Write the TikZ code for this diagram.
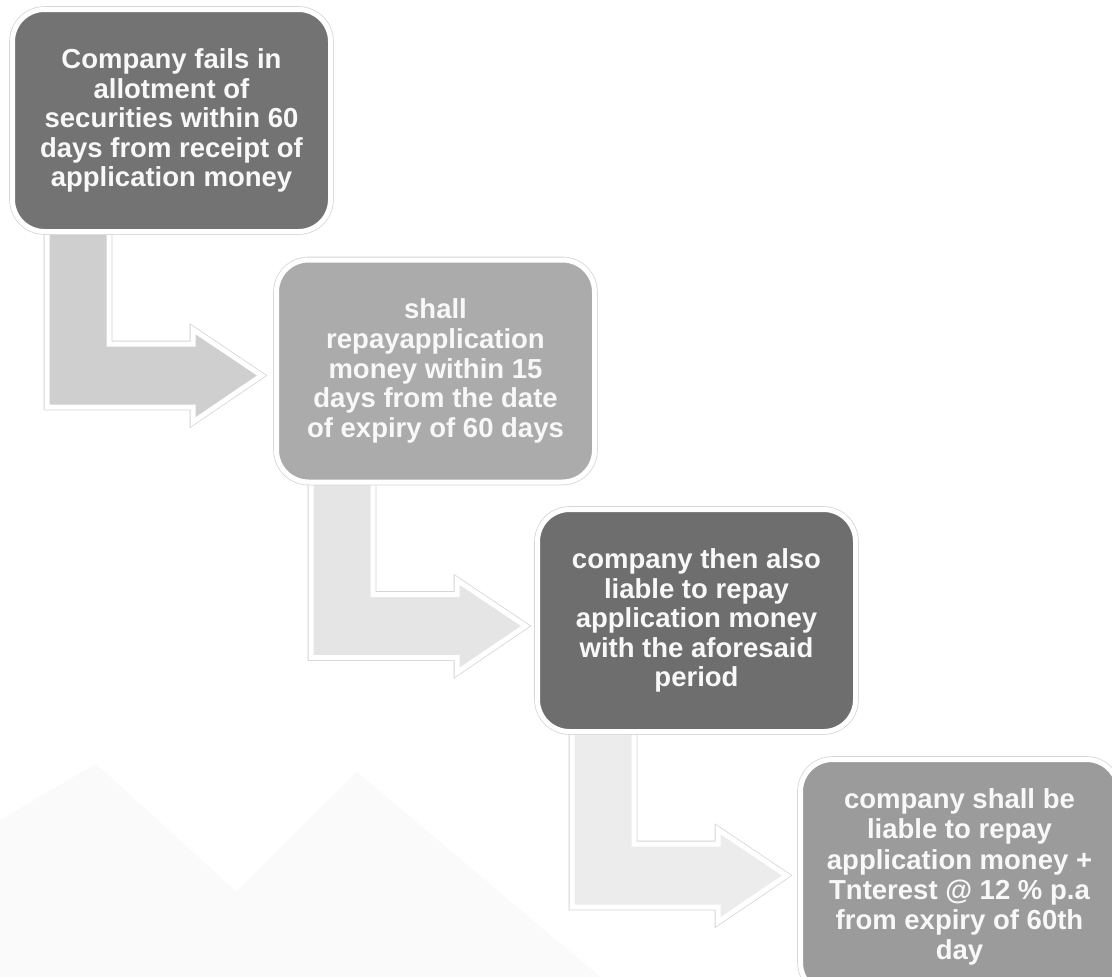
\documentclass[tikz,border=0pt]{standalone}
\usepackage{fontspec}
\setmainfont{Liberation Sans}
\definecolor{boxA}{RGB}{115,115,115}
\definecolor{boxB}{RGB}{171,171,171}
\definecolor{boxC}{RGB}{110,110,110}
\definecolor{boxD}{RGB}{155,155,155}
\definecolor{arrA}{RGB}{207,207,207}
\definecolor{arrB}{RGB}{229,229,229}
\definecolor{arrC}{RGB}{236,236,236}
\definecolor{rimgray}{RGB}{214,214,214}
\definecolor{bgfaint}{RGB}{250,250,250}
\definecolor{txt}{RGB}{248,248,248}
\pgfdeclarelayer{bg}
\pgfdeclarelayer{arrows}
\pgfsetlayers{bg,arrows,main}
\tikzset{
  rim/.style={preaction={draw=rimgray, line width=6.6pt}, draw=white, line width=5pt},
  stepbox/.style={rim, rounded corners=32pt, minimum width=318pt, minimum height=222pt,
    inner sep=0pt, text=txt, align=center,
    font=\fontsize{27.5}{29.6}\selectfont\bfseries},
  flowarrow/.pic={
    \path[rim, pic actions] (37,-40) -- (37,173) -- (183,173) -- (183,188)
      -- (251.5,141.5) -- (183,95.5) -- (183,110) -- (99,110) -- (99,-40) -- cycle;
  }
}
\begin{document}
\begin{tikzpicture}[x=1pt, y=-1pt]
\useasboundingbox (0,0) rectangle (1112,977);
\clip (0,0) rectangle (1112,977);

% boxes (nodes)
\node[stepbox, fill=boxA] (b1) at (171.5,120.5) {Company fails in\\allotment of\\securities within 60\\days from receipt of\\application money};
\node[stepbox, fill=boxB] (b2) at (435.5,371) {shall\\repayapplication\\money within 15\\days from the date\\of expiry of 60 days};
\node[stepbox, fill=boxC] (b3) at (696.5,620.5) {company then also\\liable to repay\\application money\\with the aforesaid\\period};
\node[stepbox, fill=boxD, minimum height=235pt, font=\fontsize{27.5}{30.2}\selectfont\bfseries] (b4) at (959.5,877) {company shall be\\liable to repay\\application money +\\Tnterest @ 12 \% p.a\\from expiry of 60th\\day};

% block arrows from box to box, under the boxes
\begin{pgfonlayer}{arrows}
\pic[fill=arrA] at (b1.south west) {flowarrow};
\pic[fill=arrB] at (b2.south west) {flowarrow};
\pic[fill=arrC] at (b3.south west) {flowarrow};
\end{pgfonlayer}

% background
\begin{pgfonlayer}{bg}
\fill[white] (0,0) rectangle (1112,977);
\fill[bgfaint] (-60,977) -- (96,764) -- (330,977) -- cycle;
\fill[bgfaint] (150,977) -- (357,772) -- (600,977) -- cycle;
\fill[bgfaint] (0,820) -- (96,764) -- (0,900) -- cycle;
\end{pgfonlayer}
\end{tikzpicture}
\end{document}
